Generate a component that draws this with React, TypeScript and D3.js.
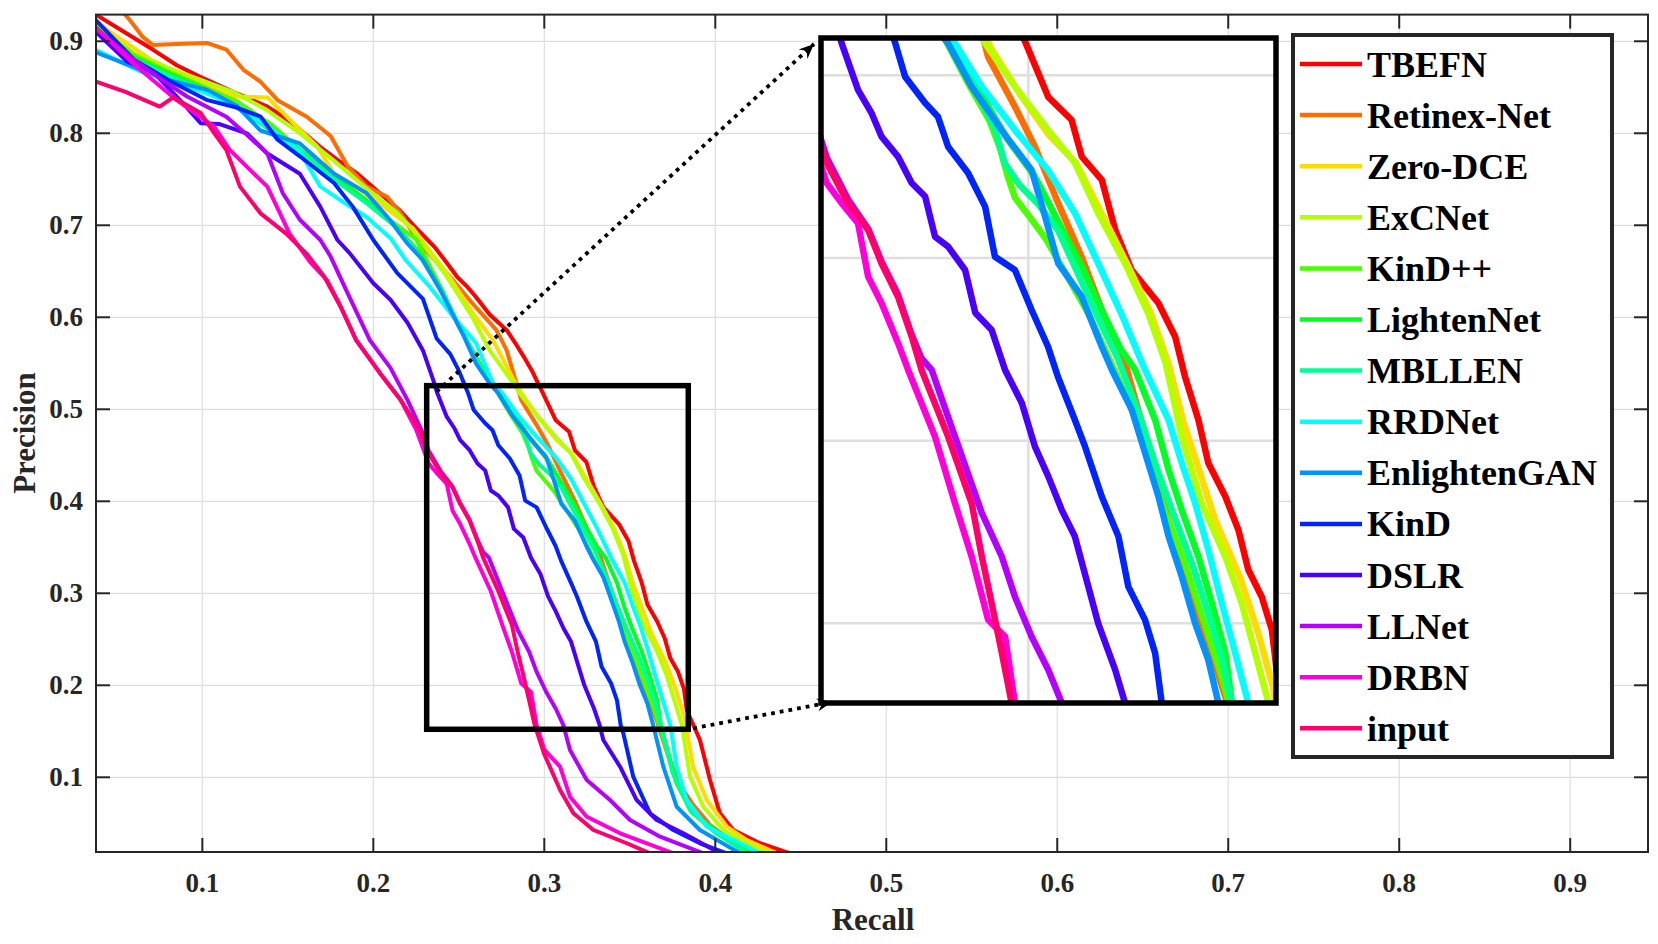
import React from 'react'
import * as d3 from 'd3'

// legend order = plot order
const methods = ['TBEFN', 'Retinex-Net', 'Zero-DCE', 'ExCNet', 'KinD++', 'LightenNet', 'MBLLEN', 'RRDNet', 'EnlightenGAN', 'KinD', 'DSLR', 'LLNet', 'DRBN', 'input']

// [recall, precision] pairs
const tbefn = [[0.035, 0.932], [0.05, 0.915], [0.071, 0.891], [0.085, 0.874], [0.099, 0.861], [0.118, 0.845], [0.138, 0.829], [0.152, 0.812], [0.169, 0.785], [0.179, 0.771], [0.19, 0.757], [0.205, 0.733], [0.215, 0.717], [0.225, 0.697], [0.236, 0.676], [0.243, 0.659], [0.249, 0.644], [0.255, 0.633], [0.26, 0.622], [0.268, 0.603], [0.278, 0.586], [0.283, 0.572], [0.288, 0.557], [0.293, 0.541], [0.299, 0.518], [0.3067, 0.488], [0.3145, 0.4755], [0.3179, 0.4554], [0.3246, 0.4427], [0.3291, 0.4153], [0.3346, 0.3934], [0.3436, 0.3752], [0.3492, 0.3569], [0.3525, 0.335], [0.357, 0.3113], [0.3603, 0.2878], [0.366, 0.2694], [0.3704, 0.2511], [0.3737, 0.2293], [0.3782, 0.2146], [0.3816, 0.1964], [0.3833, 0.1732], [0.391, 0.1405], [0.3969, 0.0971], [0.4027, 0.0608], [0.4105, 0.0427], [0.4261, 0.0283], [0.4437, 0.0174]]
const retinexNet = [[0.052, 0.935], [0.058, 0.922], [0.065, 0.905], [0.071, 0.896], [0.085, 0.897], [0.103, 0.898], [0.114, 0.891], [0.124, 0.869], [0.134, 0.856], [0.144, 0.836], [0.161, 0.818], [0.175, 0.797], [0.185, 0.764], [0.196, 0.742], [0.208, 0.731], [0.216, 0.713], [0.227, 0.68], [0.243, 0.648], [0.258, 0.615], [0.272, 0.586], [0.278, 0.564], [0.2865, 0.51], [0.2955, 0.4828], [0.3022, 0.4609], [0.31, 0.43], [0.318, 0.4], [0.325, 0.37], [0.3324, 0.3425], [0.338, 0.31], [0.343, 0.28], [0.348, 0.25], [0.354, 0.22], [0.36, 0.19], [0.366, 0.16], [0.373, 0.12], [0.38, 0.09], [0.387, 0.07], [0.397, 0.048], [0.41, 0.03], [0.42, 0.019]]
const zeroDce = [[0.035, 0.925], [0.05, 0.905], [0.07, 0.88], [0.09, 0.862], [0.105, 0.85], [0.118, 0.84], [0.138, 0.839], [0.151, 0.815], [0.167, 0.786], [0.177, 0.756], [0.19, 0.742], [0.205, 0.722], [0.223, 0.697], [0.243, 0.648], [0.258, 0.605], [0.27, 0.575], [0.282, 0.532], [0.2875, 0.515], [0.297, 0.49], [0.307, 0.467], [0.316, 0.452], [0.3245, 0.4245], [0.333, 0.397], [0.341, 0.37], [0.347, 0.342], [0.352, 0.31], [0.357, 0.285], [0.3626, 0.2566], [0.371, 0.225], [0.377, 0.195], [0.382, 0.165], [0.387, 0.1115], [0.395, 0.0753], [0.4067, 0.0463], [0.4184, 0.0318], [0.4359, 0.0174]]
const exCNet = [[0.035, 0.92], [0.06, 0.887], [0.079, 0.872], [0.099, 0.858], [0.118, 0.845], [0.138, 0.825], [0.157, 0.8], [0.177, 0.77], [0.196, 0.74], [0.213, 0.715], [0.223, 0.695], [0.243, 0.644], [0.258, 0.6], [0.268, 0.564], [0.282, 0.528], [0.2855, 0.5175], [0.2955, 0.4938], [0.3066, 0.47], [0.3156, 0.452], [0.3234, 0.4245], [0.3324, 0.397], [0.3401, 0.37], [0.346, 0.3425], [0.3514, 0.3022], [0.3581, 0.2657], [0.366, 0.2365], [0.3715, 0.2111], [0.376, 0.1838], [0.3805, 0.1564], [0.3852, 0.1007], [0.393, 0.068], [0.4047, 0.0427], [0.418, 0.028], [0.432, 0.0174]]
const kindPP = [[0.035, 0.92], [0.06, 0.885], [0.079, 0.868], [0.099, 0.852], [0.12, 0.835], [0.14, 0.81], [0.157, 0.782], [0.177, 0.755], [0.196, 0.727], [0.21, 0.705], [0.225, 0.685], [0.24, 0.63], [0.249, 0.594], [0.262, 0.55], [0.272, 0.52], [0.28, 0.495], [0.287, 0.475], [0.2905, 0.46], [0.293, 0.445], [0.2955, 0.433], [0.3011, 0.421], [0.306, 0.41], [0.313, 0.39], [0.32, 0.37], [0.327, 0.345], [0.334, 0.32], [0.34, 0.29], [0.346, 0.26], [0.352, 0.235], [0.358, 0.205], [0.364, 0.175], [0.37, 0.14], [0.377, 0.095], [0.386, 0.062], [0.4, 0.04], [0.42, 0.018]]
const lightenNet = [[0.035, 0.918], [0.06, 0.882], [0.079, 0.866], [0.099, 0.85], [0.12, 0.83], [0.14, 0.805], [0.157, 0.782], [0.177, 0.752], [0.196, 0.727], [0.21, 0.705], [0.227, 0.67], [0.24, 0.63], [0.249, 0.594], [0.262, 0.55], [0.275, 0.515], [0.284, 0.49], [0.293, 0.465], [0.302, 0.445], [0.31, 0.42], [0.318, 0.395], [0.325, 0.37], [0.331, 0.35], [0.3358, 0.3387], [0.3425, 0.3113], [0.347, 0.284], [0.3514, 0.262], [0.357, 0.2365], [0.3615, 0.2111], [0.366, 0.1838], [0.3682, 0.1564], [0.372, 0.13], [0.3774, 0.0935], [0.3871, 0.0609], [0.4027, 0.0391], [0.4222, 0.0174]]
const mbllen = [[0.035, 0.915], [0.06, 0.88], [0.08, 0.863], [0.1, 0.848], [0.12, 0.828], [0.14, 0.803], [0.158, 0.78], [0.177, 0.75], [0.196, 0.724], [0.212, 0.7], [0.227, 0.667], [0.24, 0.628], [0.25, 0.592], [0.262, 0.548], [0.275, 0.512], [0.283, 0.49], [0.289, 0.47], [0.292, 0.452], [0.297, 0.44], [0.303, 0.43], [0.31, 0.415], [0.317, 0.39], [0.324, 0.365], [0.33, 0.345], [0.337, 0.315], [0.343, 0.285], [0.349, 0.258], [0.355, 0.232], [0.36, 0.207], [0.365, 0.18], [0.369, 0.15], [0.375, 0.105], [0.385, 0.065], [0.4, 0.04], [0.418, 0.018]]
const rrdNet = [[0.035, 0.893], [0.064, 0.867], [0.085, 0.855], [0.1, 0.845], [0.12, 0.83], [0.14, 0.805], [0.157, 0.78], [0.169, 0.742], [0.185, 0.722], [0.196, 0.709], [0.21, 0.686], [0.219, 0.662], [0.233, 0.633], [0.247, 0.6], [0.26, 0.572], [0.27, 0.528], [0.2754, 0.5176], [0.2844, 0.4938], [0.2955, 0.47], [0.3066, 0.448], [0.3156, 0.4245], [0.3234, 0.397], [0.331, 0.37], [0.3391, 0.3387], [0.347, 0.3113], [0.3514, 0.2878], [0.3559, 0.2657], [0.3603, 0.2402], [0.3648, 0.2111], [0.3693, 0.1838], [0.3737, 0.1564], [0.3774, 0.1115], [0.3833, 0.0753], [0.395, 0.0463], [0.4144, 0.0283], [0.4261, 0.0174]]
const enlightenGan = [[0.035, 0.89], [0.06, 0.872], [0.08, 0.858], [0.103, 0.847], [0.12, 0.83], [0.134, 0.803], [0.157, 0.789], [0.177, 0.756], [0.196, 0.735], [0.21, 0.705], [0.22, 0.68], [0.229, 0.662], [0.239, 0.63], [0.253, 0.579], [0.26, 0.55], [0.268, 0.528], [0.273, 0.5176], [0.281, 0.4938], [0.291, 0.47], [0.3011, 0.448], [0.3056, 0.4226], [0.31, 0.397], [0.3179, 0.3788], [0.3246, 0.3514], [0.328, 0.3387], [0.3347, 0.3168], [0.3391, 0.2933], [0.3436, 0.2694], [0.347, 0.2475], [0.3514, 0.2256], [0.3559, 0.2], [0.3603, 0.18], [0.3637, 0.1564], [0.3696, 0.1115], [0.3774, 0.068], [0.391, 0.0427], [0.4144, 0.0174]]
const kind = [[0.035, 0.928], [0.06, 0.88], [0.083, 0.855], [0.103, 0.836], [0.12, 0.828], [0.134, 0.818], [0.144, 0.793], [0.157, 0.775], [0.177, 0.746], [0.188, 0.72], [0.2, 0.684], [0.214, 0.648], [0.229, 0.62], [0.237, 0.577], [0.245, 0.56], [0.25, 0.542], [0.2553, 0.518], [0.2587, 0.4992], [0.2654, 0.4848], [0.2697, 0.4773], [0.2731, 0.4609], [0.2798, 0.4465], [0.2855, 0.4281], [0.2888, 0.4007], [0.2955, 0.3934], [0.3011, 0.3715], [0.3066, 0.3514], [0.3099, 0.335], [0.3156, 0.3113], [0.319, 0.2967], [0.3246, 0.2694], [0.3302, 0.2475], [0.3335, 0.2201], [0.3391, 0.2019], [0.3425, 0.1836], [0.3447, 0.1564], [0.3462, 0.1478], [0.352, 0.1007], [0.3618, 0.0609], [0.3754, 0.0427], [0.391, 0.0283], [0.4067, 0.0174]]
const dslr = [[0.035, 0.915], [0.056, 0.878], [0.071, 0.867], [0.087, 0.836], [0.099, 0.811], [0.11, 0.81], [0.126, 0.8], [0.138, 0.778], [0.157, 0.756], [0.169, 0.72], [0.179, 0.684], [0.186, 0.67], [0.2, 0.637], [0.21, 0.619], [0.22, 0.594], [0.229, 0.564], [0.235, 0.532], [0.2374, 0.5176], [0.2429, 0.492], [0.2475, 0.4791], [0.2508, 0.4664], [0.2563, 0.4555], [0.2609, 0.441], [0.2654, 0.4336], [0.2687, 0.4117], [0.2731, 0.4062], [0.2788, 0.3934], [0.2822, 0.37], [0.2877, 0.3606], [0.2922, 0.3387], [0.2978, 0.3206], [0.3022, 0.2967], [0.3067, 0.2803], [0.3112, 0.262], [0.3156, 0.2475], [0.3201, 0.2201], [0.3234, 0.2], [0.3291, 0.1745], [0.3324, 0.1564], [0.3345, 0.1405], [0.3443, 0.1115], [0.354, 0.0753], [0.3657, 0.0536], [0.3813, 0.0391], [0.4027, 0.0174]]
const llNet = [[0.035, 0.918], [0.06, 0.88], [0.075, 0.86], [0.091, 0.84], [0.114, 0.818], [0.125, 0.8], [0.138, 0.778], [0.147, 0.735], [0.157, 0.706], [0.169, 0.684], [0.175, 0.666], [0.185, 0.626], [0.198, 0.575], [0.21, 0.545], [0.22, 0.51], [0.228, 0.478], [0.2324, 0.455], [0.2396, 0.432], [0.2463, 0.416], [0.2508, 0.398], [0.2563, 0.38], [0.2609, 0.358], [0.2642, 0.345], [0.2676, 0.3387], [0.2754, 0.3022], [0.2844, 0.2604], [0.2911, 0.2365], [0.2955, 0.2146], [0.3011, 0.1927], [0.3067, 0.1745], [0.3112, 0.1564], [0.315, 0.1297], [0.3248, 0.0971], [0.3384, 0.0753], [0.3501, 0.0536], [0.3677, 0.0354], [0.393, 0.0174]]
const drbn = [[0.035, 0.92], [0.06, 0.875], [0.085, 0.836], [0.107, 0.807], [0.116, 0.782], [0.128, 0.76], [0.138, 0.742], [0.151, 0.691], [0.163, 0.66], [0.173, 0.64], [0.18, 0.615], [0.19, 0.575], [0.204, 0.539], [0.216, 0.51], [0.225, 0.478], [0.2324, 0.441], [0.2374, 0.43], [0.2429, 0.419], [0.2463, 0.3898], [0.2508, 0.3752], [0.2563, 0.3535], [0.2597, 0.3387], [0.2687, 0.3022], [0.2754, 0.2657], [0.281, 0.2365], [0.2865, 0.202], [0.2922, 0.1927], [0.2955, 0.1564], [0.3, 0.13], [0.3092, 0.1115], [0.315, 0.0789], [0.3248, 0.0572], [0.3443, 0.0391], [0.3754, 0.0174]]
const input = [[0.035, 0.858], [0.055, 0.845], [0.075, 0.829], [0.083, 0.839], [0.099, 0.822], [0.107, 0.8], [0.114, 0.782], [0.122, 0.742], [0.134, 0.713], [0.149, 0.691], [0.161, 0.669], [0.171, 0.645], [0.181, 0.611], [0.19, 0.575], [0.204, 0.539], [0.216, 0.51], [0.227, 0.478], [0.2324, 0.452], [0.2396, 0.43], [0.2463, 0.4153], [0.2508, 0.397], [0.2563, 0.3788], [0.2609, 0.3569], [0.2642, 0.3387], [0.2731, 0.3022], [0.281, 0.2657], [0.2844, 0.2365], [0.2877, 0.2111], [0.2911, 0.1838], [0.2944, 0.1564], [0.3, 0.125], [0.3092, 0.0862], [0.317, 0.0609], [0.3287, 0.0427], [0.3482, 0.0283], [0.3618, 0.0174]]

const curves = [tbefn, retinexNet, zeroDce, exCNet, kindPP, lightenNet, mbllen, rrdNet, enlightenGan, kind, dslr, llNet, drbn, input]

const xTicks = [0.1, 0.2, 0.3, 0.4, 0.5, 0.6, 0.7, 0.8, 0.9]
const yTicks = [0.1, 0.2, 0.3, 0.4, 0.5, 0.6, 0.7, 0.8, 0.9]
const insetXGrid = [0.3]
const insetYGrid = [0.2, 0.3, 0.4, 0.5]

// region of the main axes that is magnified
const zoomX = [0.2312, 0.3842]
const zoomY = [0.1522, 0.5257]

const font = '"Liberation Serif", "Times New Roman", serif'
const axisColor = '#262626'
const gridColor = '#dedede'

function arrowHead(x1: number, y1: number, x2: number, y2: number) {
	// MATLAB-like 'vback2' head
	const a = Math.atan2(y2 - y1, x2 - x1)
	const L = 15, W = 6.5, N = 5
	const pt = (d: number, s: number) => [x2 - d * Math.cos(a) - s * Math.sin(a), y2 - d * Math.sin(a) + s * Math.cos(a)]
	const p = [pt(0, 0), pt(L, W), pt(L - N, 0), pt(L, -W)]
	return 'M' + p.map(q => q.join(',')).join('L') + 'Z'
}

export default function App() {
	const width = 1658, height = 944
	const x = d3.scaleLinear().domain([0.0378, 0.9455]).range([96, 1648])
	const y = d3.scaleLinear().domain([0.0188, 0.929]).range([852, 14.6])
	const ix = d3.scaleLinear().domain([0.2305, 0.383]).range([821, 1276])
	const iy = d3.scaleLinear().domain([0.1564, 0.5204]).range([703, 38])

	const colors = methods.map((_, i) => d3.hsl((i * 360) / methods.length, 1, 0.5).formatHex())

	const line = d3.line<number[]>().x(d => x(d[0])).y(d => y(d[1]))
	const iline = d3.line<number[]>().x(d => ix(d[0])).y(d => iy(d[1]))

	const [x0, x1] = x.range()
	const [y0, y1] = y.range()
	const [ix0, ix1] = ix.range()
	const [iy0, iy1] = iy.range()

	// connectors from the zoom box to the inset
	const a1 = [x(zoomX[0]) + 10, y(zoomY[1]) + 6, ix0 - 7, iy1 + 6]
	const a2 = [x(zoomX[1]) + 5, y(zoomY[0]) - 1, ix0 + 11, iy0 - 1]

	const legX = 1293, legY = 35, legW = 319, legH = 722
	const rowH = 51.1

	return (
		<svg width={width} height={height} style={{ position: 'absolute', left: 0, top: 0, background: '#fff' }}>
			<defs>
				<clipPath id="main-clip">
					<rect x={x0} y={y1} width={x1 - x0} height={y0 - y1} />
				</clipPath>
				<clipPath id="inset-clip">
					<rect x={ix0} y={iy1} width={ix1 - ix0} height={iy0 - iy1} />
				</clipPath>
			</defs>

			{/* grid */}
			{xTicks.map(t => (
				<line key={'gx' + t} x1={x(t)} x2={x(t)} y1={y0} y2={y1} stroke={gridColor} strokeWidth={1.2} />
			))}
			{yTicks.map(t => (
				<line key={'gy' + t} x1={x0} x2={x1} y1={y(t)} y2={y(t)} stroke={gridColor} strokeWidth={1.2} />
			))}

			{/* curves */}
			<g clipPath="url(#main-clip)">
				{curves.map((c, i) => (
					<path key={methods[i]} d={line(c) || ''} fill="none" stroke={colors[i]} strokeWidth={4} strokeLinejoin="round" strokeLinecap="round" />
				))}
			</g>

			{/* axes box and ticks */}
			<rect x={x0} y={y1} width={x1 - x0} height={y0 - y1} fill="none" stroke={axisColor} strokeWidth={2} />
			{xTicks.map(t => (
				<g key={'tx' + t}>
					<line x1={x(t)} x2={x(t)} y1={y0} y2={y0 - 14} stroke={axisColor} strokeWidth={2} />
					<line x1={x(t)} x2={x(t)} y1={y1} y2={y1 + 14} stroke={axisColor} strokeWidth={2} />
					<text x={x(t)} y={892} textAnchor="middle" fontFamily={font} fontWeight="bold" fontSize={27} fill={axisColor}>{t.toFixed(1)}</text>
				</g>
			))}
			{yTicks.map(t => (
				<g key={'ty' + t}>
					<line x1={x0} x2={x0 + 14} y1={y(t)} y2={y(t)} stroke={axisColor} strokeWidth={2} />
					<line x1={x1} x2={x1 - 14} y1={y(t)} y2={y(t)} stroke={axisColor} strokeWidth={2} />
					<text x={83} y={y(t) + 9} textAnchor="end" fontFamily={font} fontWeight="bold" fontSize={27} fill={axisColor}>{t.toFixed(1)}</text>
				</g>
			))}
			<text x={873} y={930} textAnchor="middle" fontFamily={font} fontWeight="bold" fontSize={31} fill={axisColor}>Recall</text>
			<text transform="translate(35,433) rotate(-90)" textAnchor="middle" fontFamily={font} fontWeight="bold" fontSize={31} fill={axisColor}>Precision</text>

			{/* zoom box */}
			<rect x={x(zoomX[0])} y={y(zoomY[1])} width={x(zoomX[1]) - x(zoomX[0])} height={y(zoomY[0]) - y(zoomY[1])} fill="none" stroke="#000" strokeWidth={5.5} />

			{/* inset */}
			<rect x={ix0} y={iy1} width={ix1 - ix0} height={iy0 - iy1} fill="#fff" />
			{insetXGrid.map(t => (
				<line key={'igx' + t} x1={ix(t)} x2={ix(t)} y1={iy0} y2={iy1} stroke={gridColor} strokeWidth={2.5} />
			))}
			{insetYGrid.map(t => (
				<line key={'igy' + t} x1={ix0} x2={ix1} y1={iy(t)} y2={iy(t)} stroke={gridColor} strokeWidth={2.5} />
			))}
			<g clipPath="url(#inset-clip)">
				{curves.map((c, i) => (
					<path key={'i' + methods[i]} d={iline(c) || ''} fill="none" stroke={colors[i]} strokeWidth={6.5} strokeLinejoin="round" strokeLinecap="round" />
				))}
			</g>
			<rect x={ix0} y={iy1} width={ix1 - ix0} height={iy0 - iy1} fill="none" stroke="#000" strokeWidth={5.5} />

			{/* connectors */}
			{[a1, a2].map((a, k) => (
				<g key={'arr' + k}>
					<line x1={a[0]} y1={a[1]} x2={a[2]} y2={a[3]} stroke="#000" strokeWidth={3.8} strokeDasharray="3.8 5" />
					<path d={arrowHead(a[0], a[1], a[2], a[3])} fill="#000" />
				</g>
			))}

			{/* legend */}
			<rect x={legX} y={legY} width={legW} height={legH} fill="#fff" stroke={axisColor} strokeWidth={4} />
			{methods.map((m, i) => {
				const cy = legY + 29 + i * rowH
				return (
					<g key={'leg' + m}>
						<line x1={legX + 7} x2={legX + 69} y1={cy} y2={cy} stroke={colors[i]} strokeWidth={4.5} />
						<text x={legX + 74} y={cy + 12.5} fontFamily={font} fontWeight="bold" fontSize={36} fill="#000">{m}</text>
					</g>
				)
			})}
		</svg>
	)
}
